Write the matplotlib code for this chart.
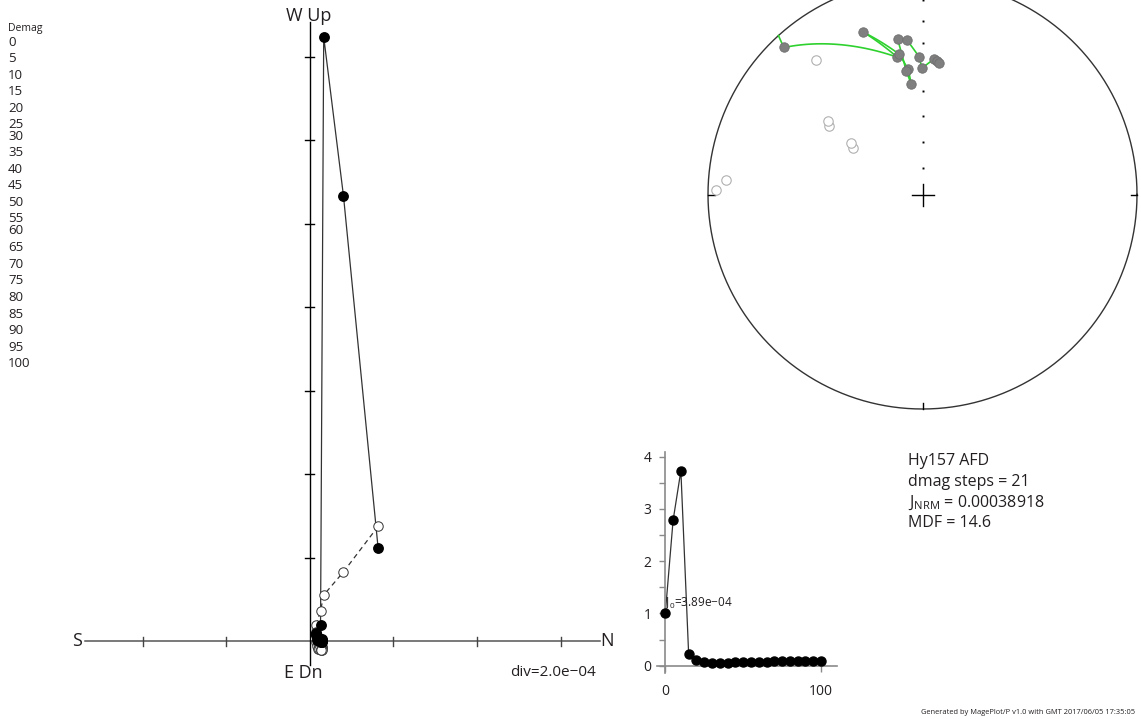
import numpy as np
import matplotlib
matplotlib.use("Agg")
import matplotlib.pyplot as plt

plt.rcParams['font.family'] = ['Open Sans', 'DejaVu Sans']

# ---------------- data ----------------
sample_name = "Hy157 AFD"
steps = [0, 5, 10, 15, 20, 25, 30, 35, 40, 45, 50, 55, 60, 65, 70, 75, 80, 85, 90, 95, 100]
dec_deg = [306.3, 274.3, 271.3, 303.7, 305.8, 307.9, 321.6, 316.7, 349.6, 340.0, 350.5,
           353.5, 354.2, 352.5, 350.9, 354.2, 358.5, 359.8, 4.9, 6.1, 7.3]
inc_deg = [-44.9, -8.8, -4.35, -57.9, -56.2, -43.5, -21.1, 6.5, 35.2, 20.6, 34.0,
           40.9, 47.2, 41.5, 27.4, 28.4, 35.9, 40.8, 36.7, 37.4, 38.0]
j_ratio = [1.0, 2.78, 3.73, 0.22, 0.115, 0.077, 0.057, 0.051, 0.051, 0.064, 0.064,
           0.07, 0.07, 0.077, 0.083, 0.083, 0.089, 0.089, 0.083, 0.096, 0.089]
j_nrm = 0.00038918
mdf = 14.6
div = 2.0e-4
footer = "Generated by MagePlot/P v1.0 with GMT 2017/06/05 17:35:05"


def sci(v, nd):
    return ("%.*e" % (nd, v)).replace("-", "\u2212")


# ---------------- derived ----------------
D = np.radians(dec_deg)
I = np.radians(inc_deg)
J = np.array(j_ratio) * j_nrm
north = J * np.cos(I) * np.cos(D)
east = J * np.cos(I) * np.sin(D)
down = J * np.sin(I)

W, H = 1141, 719
fig = plt.figure(figsize=(W / 100, H / 100), dpi=100)


def axes_px(x0, y0, x1, y1):
    return fig.add_axes([x0 / W, 1 - y1 / H, (x1 - x0) / W, (y1 - y0) / H])


FS_BIG = 13.0
DARK = '#231f20'

# ---------------- Zijderveld ----------------
k = 417500.0  # px per unit
ox, oy = 310.0, 641.0
az = axes_px(0, 0, 650, 719)
az.set_xlim((0 - ox) / k, (650 - ox) / k)
az.set_ylim((oy - 719) / k, (oy - 0) / k)
az.axis('off')

hx0, hx1 = -2.69 * div, 3.47 * div
vy0, vy1 = -0.29 * div, 7.41 * div
az.plot([hx0, hx1], [0, 0], color='#555555', lw=1.1, zorder=1)
az.plot([0, 0], [vy0, vy1], color='black', lw=1.0, zorder=1)
t = 4.5 / k
for m in range(-2, 4):
    if m == 0:
        continue
    az.plot([m * div, m * div], [-t, t], color='#444444', lw=1.0, zorder=1)
for m in range(1, 8):
    az.plot([-t, t], [m * div, m * div], color='black', lw=1.0, zorder=1)

az.text(hx0 - 3 / k, 0, "S", ha='right', va='center', fontsize=FS_BIG, color=DARK)
az.text(hx1 + 1 / k, 0, "N", ha='left', va='center', fontsize=FS_BIG, color=DARK)
az.text(-1 / k, vy1 + 6 / k, "W Up", ha='center', va='center', fontsize=FS_BIG, color=DARK)
az.text(-7 / k, -32 / k, "E Dn", ha='center', va='center', fontsize=FS_BIG, color=DARK)
az.text(243 / k, -32 / k, "div=" + sci(div, 1), ha='center', va='center',
        fontsize=11, color=DARK)

az.plot(north, -east, color='#333333', lw=0.9, zorder=2)
az.plot(north, -down, color='#333333', lw=0.9, ls=(0, (4, 3)), zorder=2)
az.plot(north, -east, 'o', ms=6.8, mfc='black', mec='black', zorder=4)
az.plot(north, -down, 'o', ms=6.8, mfc='white', mec='#333333', mew=0.7, zorder=3)

# demag list
fig.text(8 / W, 1 - 28 / H, "Demag", fontsize=7.5, ha='left', va='center', color=DARK)
ypos = 42.0
for s in steps:
    fig.text(8 / W, 1 - ypos / H, str(s), fontsize=9.5, ha='left', va='center', color=DARK)
    gap = 16.6
    if s == 25:
        gap = 11.0
    elif s == 55:
        gap = 12.0
    ypos += gap

# ---------------- J/J0 plot ----------------
px_per_x = (821 - 665.3) / 100.0
px_per_y = (665.7 - 456.7) / 4.0
bx0, bx1 = 656.7, 836.7
by0, by1 = 451.7, 673.3
aj = axes_px(bx0, by0, bx1, by1)
aj.set_xlim(-(665.3 - bx0) / px_per_x, (bx1 - 665.3) / px_per_x)
aj.set_ylim(-(by1 - 665.7) / px_per_y, (665.7 - by0) / px_per_y)
aj.patch.set_alpha(0)
for sp in ['top', 'right']:
    aj.spines[sp].set_visible(False)
for sp in ['left', 'bottom']:
    aj.spines[sp].set_position(('data', 0))
    aj.spines[sp].set_color('#8a8a8a')
    aj.spines[sp].set_linewidth(1.2)
aj.set_xticks([0, 100])
aj.set_yticks([0, 1, 2, 3, 4])
aj.set_yticks([0.5, 1.5, 2.5, 3.5], minor=True)
aj.tick_params(axis='both', which='both', direction='out', length=4, width=1.0,
               color='#8a8a8a', labelsize=10, labelcolor=DARK)
aj.tick_params(axis='x', pad=9)
aj.tick_params(axis='y', pad=6)
aj.plot(steps, j_ratio, color='#333333', lw=0.9, zorder=2, clip_on=False)
aj.plot(steps, j_ratio, 'o', ms=6.5, color='black', zorder=3, clip_on=False)
aj.text(-0.5, 1.19, r"$\mathregular{J_0}$=" + sci(j_nrm, 2), fontsize=8.5, ha='left',
        va='center', color=DARK)

# ---------------- equal-area stereonet ----------------
R = 214.5
cx, cy = 922.5, 194.5
L = 1.06
ast = axes_px(cx - R * L, cy - R * L, cx + R * L, cy + R * L)
ast.set_xlim(-L, L)
ast.set_ylim(-L, L)
ast.axis('off')
th = np.linspace(0, 2 * np.pi, 721)
ast.plot(np.cos(th), np.sin(th), color='#333333', lw=1.0, zorder=1)
tk = 6.5 / R
ast.plot([-1, -1 + tk], [0, 0], color='black', lw=1.0)
ast.plot([1, 1 - tk], [0, 0], color='black', lw=1.0)
ast.plot([0, 0], [-1, -1 + tk], color='black', lw=1.0)
ast.plot([0, 0], [1, 1 - tk], color='black', lw=1.0)
cr = 11 / R
ast.plot([-cr, cr], [0, 0], color='black', lw=1.0)
ast.plot([0, 0], [-cr, cr], color='black', lw=1.0)
tick_inc = np.radians(np.arange(10, 90, 10))
ast.plot(np.zeros_like(tick_inc), np.sqrt(1 - np.sin(tick_inc)), 's', ms=1.4,
         color='black', mew=0)


def project(n, e, d):
    h = np.hypot(n, e)
    r = np.sqrt(1 - np.abs(d))
    return r * e / h, r * n / h


vecs = np.stack([np.cos(I) * np.cos(D), np.cos(I) * np.sin(D), np.sin(I)], axis=1)
for a, b in zip(vecs[:-1], vecs[1:]):
    om = np.arccos(np.clip(np.dot(a, b), -1, 1))
    tt = np.linspace(0, 1, 120)
    if om < 1e-6:
        continue
    pts = (np.sin((1 - tt) * om)[:, None] * a + np.sin(tt * om)[:, None] * b) / np.sin(om)
    pts = pts / np.linalg.norm(pts, axis=1)[:, None]
    x, y = project(pts[:, 0], pts[:, 1], pts[:, 2])
    mask = pts[:, 2] < 0
    x = np.where(mask, np.nan, x)
    y = np.where(mask, np.nan, y)
    ast.plot(x, y, color='#2ed12e', lw=1.2, zorder=2)

px_, py_ = project(vecs[:, 0], vecs[:, 1], vecs[:, 2])
lower = vecs[:, 2] >= 0
ast.plot(px_[lower], py_[lower], 'o', ms=6.8, mfc='#7f7f7f', mec='#6f6f6f', mew=0.6, zorder=3)
ast.plot(px_[~lower], py_[~lower], 'o', ms=6.8, mfc='white', mec='#b0b0b0', mew=0.8, zorder=3)

# ---------------- info text ----------------
info_x = 908 / W
fs_info = 11.5
fig.text(info_x, 1 - 461 / H, sample_name, fontsize=fs_info, ha='left', va='center', color=DARK)
fig.text(info_x, 1 - 482 / H, "dmag steps = %d" % len(steps), fontsize=fs_info, ha='left',
         va='center', color=DARK)
fig.text(info_x, 1 - 503 / H, r"$\mathregular{J_{NRM}}$ = %.8f" % j_nrm, fontsize=fs_info,
         ha='left', va='center', color=DARK)
fig.text(info_x, 1 - 523 / H, "MDF = %.1f" % mdf, fontsize=fs_info, ha='left', va='center',
         color=DARK)
fig.text(1135 / W, 1 - 712 / H, footer, fontsize=5.4, ha='right', va='center', color=DARK)

fig.savefig("out.png", dpi=100)
